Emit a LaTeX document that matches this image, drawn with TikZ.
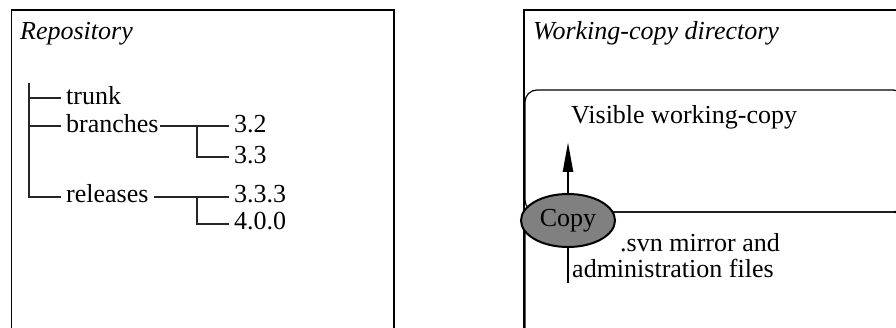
\documentclass[tikz,border=0pt]{standalone}
\usepackage{fontspec}
\setmainfont{Liberation Serif}
\usetikzlibrary{shapes.geometric,arrows.meta}

\tikzset{
  frame/.style={draw=black, line width=1.4pt},
  layer/.style={draw=black, line width=1.2pt, rounded corners=12pt},
  treeline/.style={draw=black!85, line width=1.1pt},
  label/.style={inner xsep=5pt, inner ysep=0pt, anchor=base west, font=\fontsize{26}{30}\selectfont},
  title/.style={label, font=\fontsize{26}{30}\selectfont\itshape},
  flow/.style={line width=2.4pt, draw=black},
  copyop/.style={ellipse, draw=black, line width=2pt, fill=black!50,
    minimum width=94pt, minimum height=53pt, inner sep=0pt,
    font=\fontsize{26}{30}\selectfont}
}

\begin{document}
\begin{tikzpicture}[x=1pt, y=-1pt]
  \useasboundingbox (0,0) rectangle (896,328);
  \clip (0,0) rectangle (896,328);

  % ---------- repository ----------
  \draw[frame] (11.5,340) -- (11.5,10) -- (394,10) -- (394,340);
  \node[title] (repo) at (15,40) {Repository};

  \node[label] (trunk)    at (61,105)  {trunk};
  \node[label] (branches) at (61,133)  {branches};
  \node[label] (releases) at (61,203)  {releases\ };
  \node[label] (b32)  at (229,133) {3.2};
  \node[label] (b33)  at (229,164) {3.3};
  \node[label] (r333) at (229,203) {3.3.3};
  \node[label] (r400) at (229,230) {4.0.0};

  \coordinate (spinetop) at (29,83);
  \coordinate (spinet) at (29,98);
  \coordinate (spineb) at (29,126);
  \coordinate (spiner) at (29,197);
  \coordinate (bfork) at (197,126);
  \coordinate (bend)  at (197,157);
  \coordinate (rfork) at (197,197);
  \coordinate (rend)  at (197,224);

  \draw[treeline] (spinetop) -- (spiner) -- (spiner -| releases.west);
  \draw[treeline] (spinet) -- (spinet -| trunk.west);
  \draw[treeline] (spineb) -- (spineb -| branches.west);
  \draw[treeline] ([xshift=-4pt]bfork -| branches.east) -- (bfork -| b32.west);
  \draw[treeline] (bfork) -- (bend) -- (bend -| b33.west);
  \draw[treeline] (rfork -| releases.east) -- (rfork -| r333.west);
  \draw[treeline] (rfork) -- (rend) -- (rend -| r400.west);

  % ---------- working copy ----------
  \draw[frame] (524,340) -- (524,10) -- (910,10);
  \node[title] (wcdir) at (528,40) {Working-copy directory};

  \draw[layer] (525,212) rectangle (905,90);
  \draw[layer] (525,340) rectangle (905,212);

  \node[label] (visible) at (566,124) {Visible working-copy};
  \node[label] (svn)  at (615,252) {.svn mirror and};
  \node[label] (admin) at (567,278) {administration files};

  \coordinate (arrowtip) at (568,142);
  \coordinate (tail) at (568,283);
  \node[copyop] (copy) at (568,220.5) {Copy};

  \draw[flow, -{Triangle[length=30pt,width=10pt]}] (copy.north) -- (arrowtip);
  \draw[flow] (copy.south) -- (tail);
\end{tikzpicture}
\end{document}
